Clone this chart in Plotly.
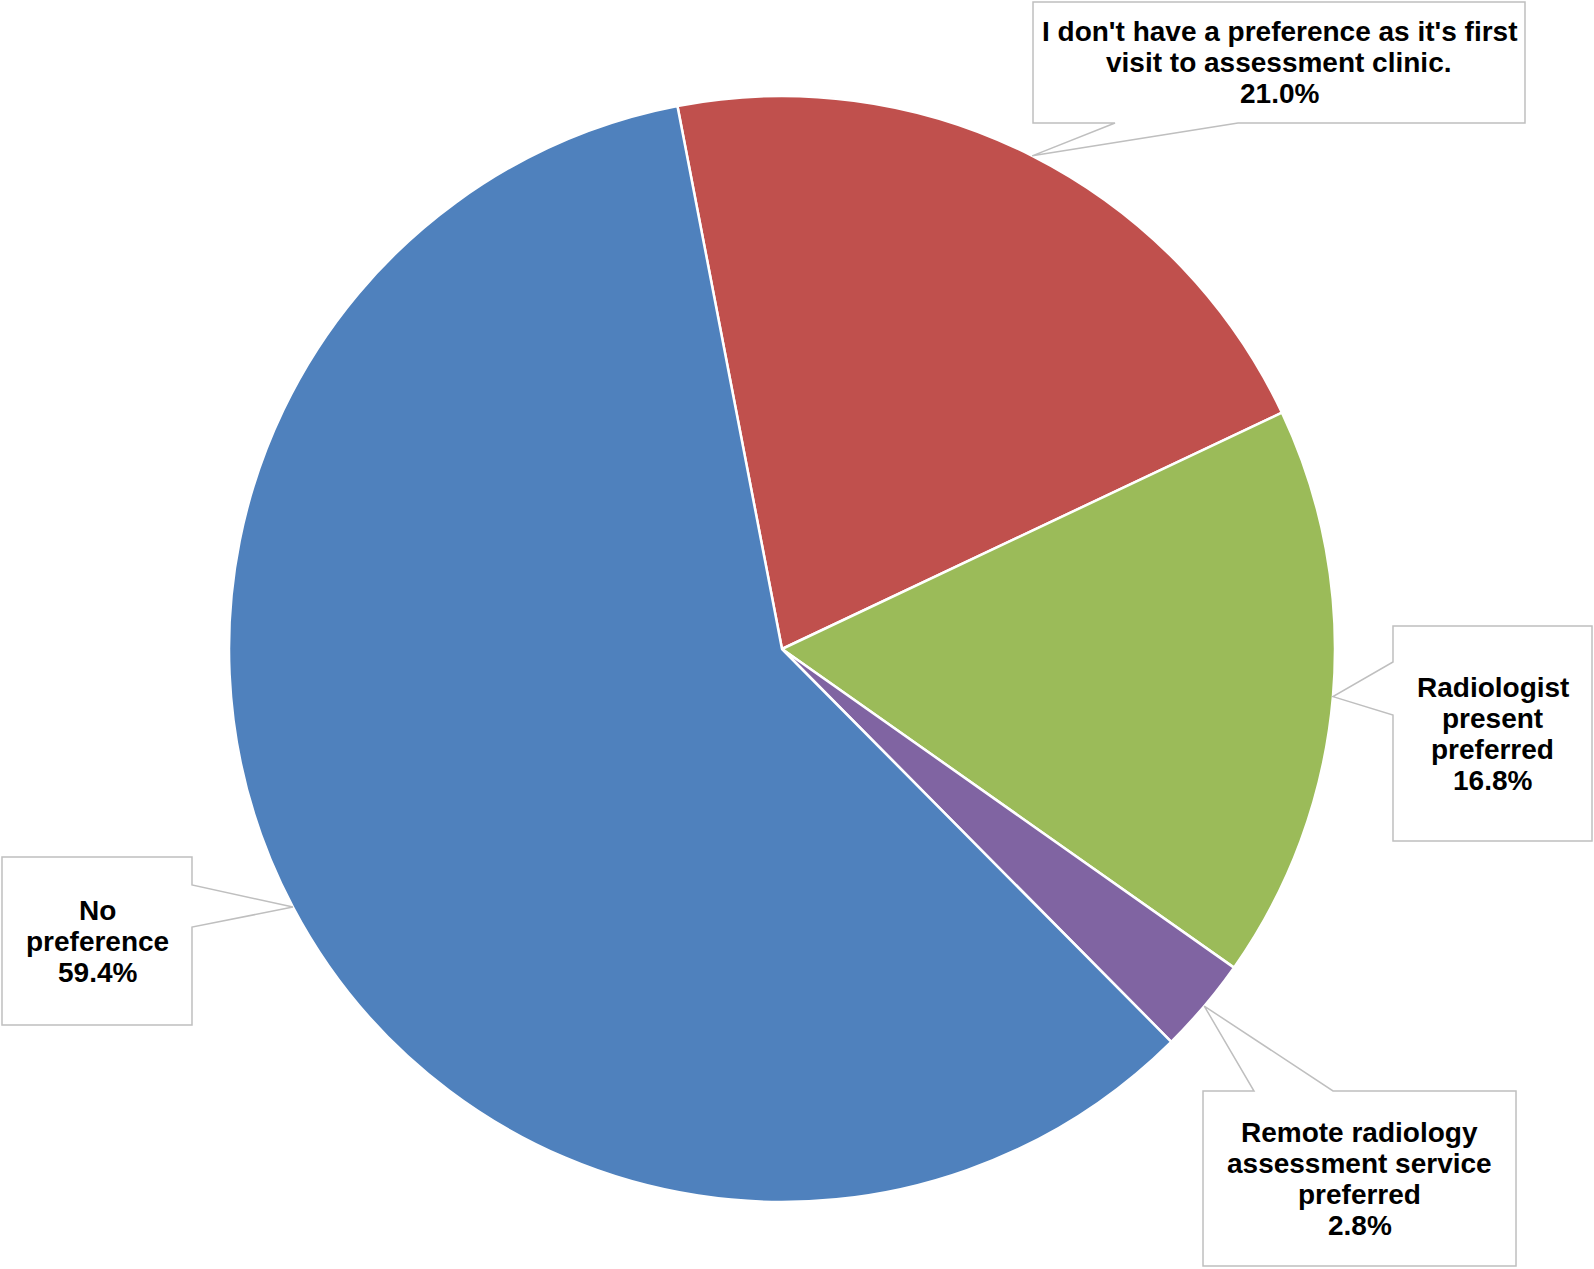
import math
import plotly.graph_objects as go

# Data
labels = ["I don't have a preference as it's first visit to assessment clinic.",
          "Radiologist present preferred",
          "Remote radiology assessment service preferred",
          "No preference"]
values = [21.0, 16.8, 2.8, 59.4]
label_lines = [["I don't have a preference as it's first", "visit to assessment clinic.", "21.0%"],
               ["Radiologist", "present", "preferred", "16.8%"],
               ["Remote radiology", "assessment service", "preferred", "2.8%"],
               ["No", "preference", "59.4%"]]
colors = ["#C0504D", "#9BBB59", "#8064A2", "#4F81BD"]

W, H = 1594, 1269
CX, CY, R = 782, 649, 553
ROT = -10.9

# Callout boxes (pixel layout): x0, y0, x1, y1, side of tail, tail base offsets
boxes = [
    (1033, 2, 1525, 123, "bottom", (1115, 1238)),
    (1393, 626, 1592, 841, "left", (662, 715)),
    (1203, 1091, 1516, 1266, "top", (1254, 1333)),
    (2, 857, 192, 1025, "right", (885, 927)),
]

def px(x):
    return x / W

def py(y):
    return 1 - y / H

fig = go.Figure(go.Pie(
    labels=labels, values=values, sort=False, direction="clockwise",
    rotation=ROT, textinfo="none", showlegend=False,
    marker=dict(colors=colors, line=dict(color="white", width=2.5)),
    domain=dict(x=[(CX - R) / W, (CX + R) / W], y=[1 - (CY + R) / H, 1 - (CY - R) / H]),
))

total = sum(values)
shapes = []
annotations = []
cum = 0.0
LS = 31
for i, v in enumerate(values):
    mid = ROT + (cum + v / 2) / total * 360
    cum += v
    a = math.radians(mid)
    tx, ty = CX + R * math.sin(a), CY - R * math.cos(a)
    x0, y0, x1, y1, side, (b1, b2) = boxes[i]
    if side == "bottom":
        pts = [(x0, y0), (x1, y0), (x1, y1), (b2, y1), (tx, ty), (b1, y1), (x0, y1)]
    elif side == "top":
        pts = [(x0, y0), (b1, y0), (tx, ty), (b2, y0), (x1, y0), (x1, y1), (x0, y1)]
    elif side == "left":
        pts = [(x0, y0), (x1, y0), (x1, y1), (x0, y1), (x0, b2), (tx, ty), (x0, b1)]
    else:
        pts = [(x0, y0), (x1, y0), (x1, b1), (tx, ty), (x1, b2), (x1, y1), (x0, y1)]
    path = "M " + " L ".join(f"{px(x):.5f},{py(y):.5f}" for x, y in pts) + " Z"
    shapes.append(dict(type="path", path=path, xref="paper", yref="paper",
                       fillcolor="white", line=dict(color="#BFBFBF", width=1.5)))
    lines = label_lines[i]
    cxb, cyb = (x0 + x1) / 2, (y0 + y1) / 2
    n = len(lines)
    for j, t in enumerate(lines):
        yy = cyb + (j - (n - 1) / 2) * LS
        annotations.append(dict(text=t, x=px(cxb), y=py(yy), xref="paper", yref="paper",
                                showarrow=False, xanchor="center", yanchor="middle",
                                font=dict(family="Liberation Sans, Arial, sans-serif",
                                          size=28, color="black", weight="bold")))

fig.update_layout(width=W, height=H, margin=dict(l=0, r=0, t=0, b=0),
                  paper_bgcolor="white", plot_bgcolor="white",
                  shapes=shapes, annotations=annotations)
fig.write_html("out.html", config={"displayModeBar": False},
               post_script="document.body.style.margin='0';document.body.style.overflow='hidden';")
